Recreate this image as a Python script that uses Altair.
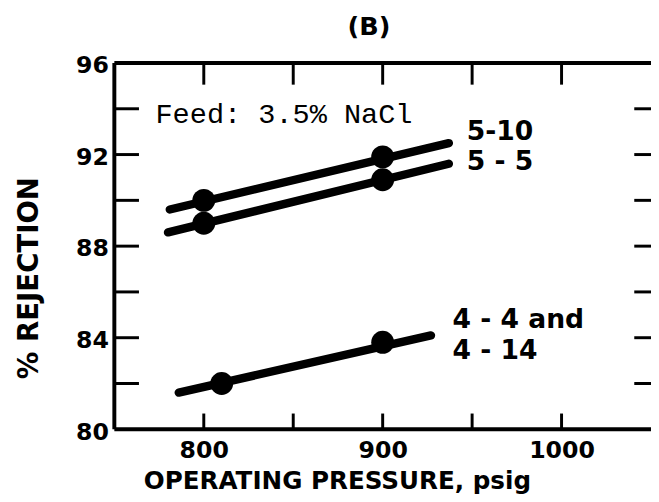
import altair as alt
import pandas as pd

# ---- data ----
series = ["5-10", "5-5", "4-4/4-14"]
pt_pressure = [[800, 900], [800, 900], [810, 900]]
pt_rejection = [[90.0, 91.9], [89.0, 90.9], [82.0, 83.8]]
line_pressure = [[781, 937], [780, 937], [786, 927]]
line_rejection = [[89.6, 92.5], [88.6, 91.6], [81.6, 84.1]]

label_text = ["5-10", "5 - 5", "4 - 4  and", "4 - 14"]
label_x = [947, 947, 939, 939]
label_y = [93.0, 91.65, 84.75, 83.4]

note_text = ["Feed: 3.5% NaCl"]
note_x = [773]
note_y = [93.75]

x_ticks = [800, 850, 900, 950, 1000]
x_labels = [800, 900, 1000]
y_ticks = [82, 84, 86, 88, 90, 92, 94]
y_labels = [80, 84, 88, 92, 96]

W, H = 545, 372
FONT = "DejaVu Sans"

pts = pd.DataFrame([
    {"series": s, "p": p, "r": r}
    for s, ps, rs in zip(series, pt_pressure, pt_rejection)
    for p, r in zip(ps, rs)
])
lines = pd.DataFrame([
    {"series": s, "p": p, "r": r}
    for s, ps, rs in zip(series, line_pressure, line_rejection)
    for p, r in zip(ps, rs)
])
labels = pd.DataFrame({"t": label_text, "p": label_x, "r": label_y})
note = pd.DataFrame({"t": note_text, "p": note_x, "r": note_y})
xt = pd.DataFrame({"p": x_ticks})
yt = pd.DataFrame({"r": y_ticks})

xs = alt.Scale(domain=[750, 1050], nice=False, zero=False)
ys = alt.Scale(domain=[80, 96], nice=False, zero=False)

xaxis = alt.Axis(values=x_labels, format="d", ticks=False, domain=False, grid=False,
                 labelFont=FONT, labelFontSize=24, labelFontWeight="bold",
                 labelColor="black", labelPadding=10, labelBaseline="top",
                 title="OPERATING PRESSURE, psig", titleFont=FONT,
                 titleFontSize=25, titleFontWeight="bold", titleColor="black",
                 titleX=226, titleY=52, titleBaseline="middle", titleAlign="center")
yaxis = alt.Axis(values=y_labels, format="d", ticks=False, domain=False, grid=False,
                 labelFont=FONT, labelFontSize=24, labelFontWeight="bold",
                 labelColor="black", labelPadding=6, labelBaseline="middle",
                 labelOffset=3,
                 title="% REJECTION", titleFont=FONT, titleFontSize=28,
                 titleFontWeight="bold", titleColor="black",
                 titleX=-86, titleY=218, titleAngle=270,
                 titleBaseline="middle", titleAlign="center")

base_line = alt.Chart(lines).mark_line(color="black", strokeWidth=8.5, strokeCap="round").encode(
    x=alt.X("p:Q", scale=xs, axis=xaxis),
    y=alt.Y("r:Q", scale=ys, axis=yaxis),
    detail="series:N",
)
points = alt.Chart(pts).mark_circle(color="black", opacity=1, size=540).encode(
    x=alt.X("p:Q", scale=xs), y=alt.Y("r:Q", scale=ys)
)
lab = alt.Chart(labels).mark_text(font=FONT, fontSize=27, fontWeight="bold",
                                  align="left", baseline="middle", color="black").encode(
    x=alt.X("p:Q", scale=xs), y=alt.Y("r:Q", scale=ys), text="t:N"
)
nt = alt.Chart(note).mark_text(font="Liberation Mono", fontSize=29,
                               align="left", baseline="middle", color="black").encode(
    x=alt.X("p:Q", scale=xs), y=alt.Y("r:Q", scale=ys), text="t:N"
)
bt = alt.Chart(xt).mark_rule(color="black", strokeWidth=3).encode(
    x=alt.X("p:Q", scale=xs), y=alt.value(H), y2=alt.value(H - 16))
tt = alt.Chart(xt).mark_rule(color="black", strokeWidth=3).encode(
    x=alt.X("p:Q", scale=xs), y=alt.value(0), y2=alt.value(22))
lt = alt.Chart(yt).mark_rule(color="black", strokeWidth=3).encode(
    y=alt.Y("r:Q", scale=ys), x=alt.value(0), x2=alt.value(25))
rt = alt.Chart(yt).mark_rule(color="black", strokeWidth=3).encode(
    y=alt.Y("r:Q", scale=ys), x=alt.value(W), x2=alt.value(W - 17))

frame_df = pd.DataFrame({"side": ["top", "bottom", "left"]})
top_line = alt.Chart(frame_df).transform_filter("datum.side=='top'").mark_rule(
    color="black", strokeWidth=4).encode(x=alt.value(0), x2=alt.value(W), y=alt.value(0))
bot_line = alt.Chart(frame_df).transform_filter("datum.side=='bottom'").mark_rule(
    color="black", strokeWidth=4).encode(x=alt.value(0), x2=alt.value(W), y=alt.value(H))
left_line = alt.Chart(frame_df).transform_filter("datum.side=='left'").mark_rule(
    color="black", strokeWidth=4).encode(x=alt.value(0), y=alt.value(0), y2=alt.value(H))

chart = alt.layer(base_line, points, lab, nt, bt, tt, lt, rt, top_line, bot_line, left_line).properties(
    width=W, height=H,
    title=alt.TitleParams(text="(B)", font=FONT, fontSize=26, fontWeight="bold",
                          color="black", offset=14, dx=-14),
    autosize=alt.AutoSizeParams(type="none"),
    padding={"left": 108, "top": 52, "right": 0, "bottom": 70},
).configure_view(stroke=None).configure(background="white")

chart.save("out.html", embed_options={"renderer": "svg", "actions": False})
